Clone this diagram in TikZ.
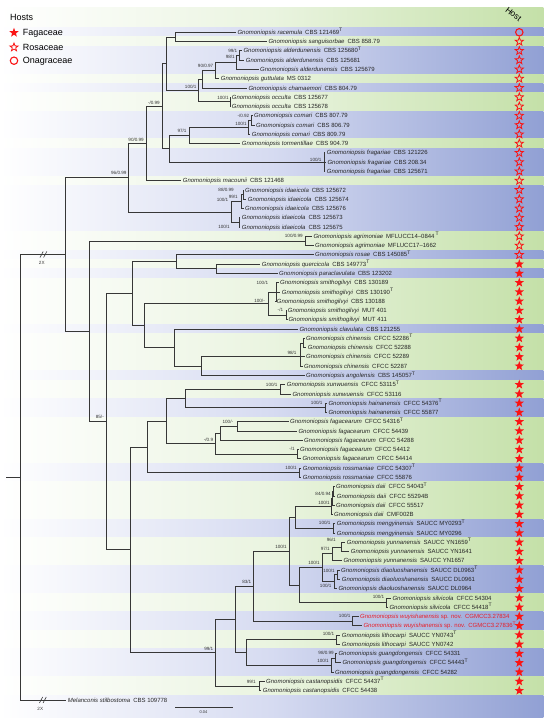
\documentclass[tikz,border=0pt]{standalone}
\usepackage{fontspec}
\setmainfont{Liberation Sans}
\usetikzlibrary{shapes.geometric}
\definecolor{lineg}{RGB}{55,55,55}
\definecolor{bR}{RGB}{145,160,212}
\definecolor{bM}{RGB}{214,219,241}
\definecolor{gR}{RGB}{196,224,168}
\definecolor{gM}{RGB}{234,244,224}
\definecolor{hred}{RGB}{250,20,20}
\definecolor{nred}{RGB}{232,30,40}
\newcommand\ry[1]{(32.3+(#1-1)*9.272)}
\newcommand\Ty{\textsuperscript{T}}
\newcommand\leafn[5]{\node[leaf] (#1) at ({#3-1.5},{\ry{#2}}) {\textit{Gnomoniopsis #4}\hspace{0.5em}#5};}
\newcommand\bandB[2]{\shade[left color=white,right color=bR,middle color=bM] (0,{\ry{#1}-4.636}) rectangle (543.3,{\ry{#2}+4.636});}
\newcommand\bandG[2]{\shade[left color=white,right color=gR,middle color=gM] (0,{\ry{#1}-4.636}) rectangle (543.3,{\ry{#2}+4.636});}
\newcommand\hostF[1]{\node[fstar] (h#1) at (519.3,{\ry{#1}}) {};}
\newcommand\hostO[1]{\node[ostar] (h#1) at (519.3,{\ry{#1}}) {};}
\newcommand\supl[4]{\node[supp] (#1) at (#2,#3) {#4};}
\tikzset{
 leaf/.style={anchor=west, inner xsep=1.5pt, inner ysep=0pt, text height=4.3pt, text depth=0pt, font=\fontsize{6}{7}\selectfont, text=black!85},
 supp/.style={anchor=east, inner sep=0pt, font=\fontsize{4.6}{5}\selectfont, text=black!80},
 br/.style={draw=lineg, line width=0.75pt},
 fstar/.style={star, star points=5, star point ratio=2.4, fill=hred, draw=none, minimum size=9.8pt, inner sep=0pt},
 ostar/.style={star, star points=5, star point ratio=2.4, draw=hred, fill=none, line width=0.8pt, minimum size=8.6pt, inner sep=0pt},
 ocirc/.style={circle, draw=hred, line width=1.1pt, minimum size=7.4pt, inner sep=0pt},
 legt/.style={anchor=west, inner sep=0pt, text height=6.4pt, text depth=0pt, font=\fontsize{9}{10}\selectfont}
}
\begin{document}
\begin{tikzpicture}[x=1pt,y=-1pt]
\useasboundingbox (0,0) rectangle (550,721);
\fill[white] (0,0) rectangle (550,721);
% ---------- bands
\shade[left color=white,right color=gR,middle color=gM] (0,7) rectangle (543.3,{\ry{1}-4.636});
\bandB{1}{1}\bandG{2}{2}\bandB{3}{5}\bandG{6}{6}\bandB{7}{7}\bandG{8}{9}
\bandB{10}{12}\bandG{13}{13}\bandB{14}{16}\bandG{17}{17}\bandB{18}{22}
\bandG{23}{24}\bandB{25}{25}\bandG{26}{26}\bandB{27}{27}\bandG{28}{32}
\bandB{33}{33}\bandG{34}{37}\bandB{38}{38}\bandG{39}{40}\bandB{41}{42}
\bandG{43}{47}\bandB{48}{49}\bandG{50}{53}\bandB{54}{55}\bandG{56}{58}
\bandB{59}{61}\bandG{62}{63}\bandB{64}{65}\bandG{66}{67}\bandB{68}{70}
\bandG{71}{72}
\shade[left color=white,right color=bR,middle color=bM] (0,{\ry{73}-4.636}) rectangle (543.3,717);
% ---------- legend
\node[anchor=west, inner sep=0pt, font=\fontsize{9}{10}\selectfont] (hosts) at (10,17.3) {Hosts};
\node[fstar] (lg1) at (14,32.7) {};
\node[legt] (lt1) at (22.7,32.7) {Fagaceae};
\node[ostar] (lg2) at (14,47.3) {};
\node[legt] (lt2) at (22.7,47.3) {Rosaceae};
\node[ocirc] (lg3) at (14,60.7) {};
\node[legt] (lt3) at (22.7,60.7) {Onagraceae};
\node[rotate=-38, inner sep=0pt, font=\fontsize{8.5}{9}\selectfont] (hosthdr) at (513.5,14.3) {Host};
% ---------- leaves
\leafn{L1}{1}{237.3}{racemula}{CBS 121469\Ty}
\leafn{L2}{2}{268.3}{sanguisorbae}{CBS 858.79}
\leafn{L3}{3}{243.3}{alderdunensis}{CBS 125680\Ty}
\leafn{L4}{4}{245.7}{alderdunensis}{CBS 125681}
\leafn{L5}{5}{260}{alderdunensis}{CBS 125679}
\leafn{L6}{6}{220.7}{guttulata}{MS 0312}
\leafn{L7}{7}{248.3}{chamaemori}{CBS 804.79}
\leafn{L8}{8}{231.7}{occulta}{CBS 125677}
\leafn{L9}{9}{231.7}{occulta}{CBS 125678}
\leafn{L10}{10}{254}{comari}{CBS 807.79}
\leafn{L11}{11}{256}{comari}{CBS 806.79}
\leafn{L12}{12}{251.7}{comari}{CBS 809.79}
\leafn{L13}{13}{241.7}{tormentillae}{CBS 904.79}
\leafn{L14}{14}{326.7}{fragariae}{CBS 121226}
\leafn{L15}{15}{327.3}{fragariae}{CBS 208.34}
\leafn{L16}{16}{326.7}{fragariae}{CBS 125671}
\leafn{L17}{17}{182.7}{macounii}{CBS 121468}
\leafn{L18}{18}{245}{idaeicola}{CBS 125672}
\leafn{L19}{19}{247.7}{idaeicola}{CBS 125674}
\leafn{L20}{20}{245}{idaeicola}{CBS 125676}
\leafn{L21}{21}{241.7}{idaeicola}{CBS 125673}
\leafn{L22}{22}{241.7}{idaeicola}{CBS 125675}
\leafn{L23}{23}{313.3}{agrimoniae}{MFLUCC14–0844\,\Ty}
\leafn{L24}{24}{315}{agrimoniae}{MFLUCC17–1662}
\leafn{L25}{25}{315}{rosae}{CBS 145085\Ty}
\leafn{L26}{26}{261.7}{quercicola}{CBS 149773\Ty}
\leafn{L27}{27}{279}{paraclavulata}{CBS 123202}
\leafn{L28}{28}{280}{smithogilvyi}{CBS 130189}
\leafn{L29}{29}{281.7}{smithogilvyi}{CBS 130190\Ty}
\leafn{L30}{30}{276.7}{smithogilvyi}{CBS 130188}
\leafn{L31}{31}{287.7}{smithogilvyi}{MUT 401}
\leafn{L32}{32}{288.3}{smithogilvyi}{MUT 411}
\leafn{L33}{33}{299.3}{clavulata}{CBS 121255}
\leafn{L34}{34}{306}{chinensis}{CFCC 52286\Ty}
\leafn{L35}{35}{307.7}{chinensis}{CFCC 52288}
\leafn{L36}{36}{306}{chinensis}{CFCC 52289}
\leafn{L37}{37}{304}{chinensis}{CFCC 52287}
\leafn{L38}{38}{306}{angolensis}{CBS 145057\Ty}
\leafn{L39}{39}{286.7}{xunwuensis}{CFCC 53115\Ty}
\leafn{L40}{40}{292.3}{xunwuensis}{CFCC 53116}
\leafn{L41}{41}{328.3}{hainanensis}{CFCC 54376\Ty}
\leafn{L42}{42}{328.3}{hainanensis}{CFCC 55877}
\leafn{L43}{43}{290}{fagacearum}{CFCC 54316\Ty}
\leafn{L44}{44}{298.3}{fagacearum}{CFCC 54439}
\leafn{L45}{45}{304}{fagacearum}{CFCC 54288}
\leafn{L46}{46}{300}{fagacearum}{CFCC 54412}
\leafn{L47}{47}{302.3}{fagacearum}{CFCC 54414}
\leafn{L48}{48}{302.7}{rossmaniae}{CFCC 54307\Ty}
\leafn{L49}{49}{302.7}{rossmaniae}{CFCC 55876}
\leafn{L50}{50}{336}{daii}{CFCC 54043\Ty}
\leafn{L51}{51}{336.7}{daii}{CFCC 55294B}
\leafn{L52}{52}{336}{daii}{CFCC 55517}
\leafn{L53}{53}{334}{daii}{CMF002B}
\leafn{L54}{54}{336.7}{mengyinensis}{SAUCC MY0293\Ty}
\leafn{L55}{55}{336.7}{mengyinensis}{SAUCC MY0296}
\leafn{L56}{56}{346.7}{yunnanensis}{SAUCC YN1659\Ty}
\leafn{L57}{57}{350.7}{yunnanensis}{SAUCC YN1641}
\leafn{L58}{58}{343.3}{yunnanensis}{SAUCC YN1657}
\leafn{L59}{59}{341}{diaoluoshanensis}{SAUCC DL0963\Ty}
\leafn{L60}{60}{341.7}{diaoluoshanensis}{SAUCC DL0961}
\leafn{L61}{61}{338.3}{diaoluoshanensis}{SAUCC DL0964}
\leafn{L62}{62}{392.3}{silvicola}{CFCC 54304}
\leafn{L63}{63}{389.3}{silvicola}{CFCC 54418\Ty}
\node[leaf, text=nred] (L64) at (358.5,{\ry{64}}) {\textit{Gnomoniopsis wuyishanensis} sp. nov.\hspace{0.5em}CGMCC3.27834};
\node[leaf, text=nred] (L65) at (361.8,{\ry{65}}) {\textit{Gnomoniopsis wuyishanensis} sp. nov.\hspace{0.5em}CGMCC3.27836\Ty};
\leafn{L66}{66}{341.7}{lithocarpi}{SAUCC YN0743\Ty}
\leafn{L67}{67}{341.7}{lithocarpi}{SAUCC YN0742}
\leafn{L68}{68}{338.3}{guangdongensis}{CFCC 54331}
\leafn{L69}{69}{342.3}{guangdongensis}{CFCC 54443\Ty}
\leafn{L70}{70}{335}{guangdongensis}{CFCC 54282}
\leafn{L71}{71}{266}{castanopsidis}{CFCC 54437\Ty}
\leafn{L72}{72}{262.7}{castanopsidis}{CFCC 54438}
\node[leaf] (L73) at (66.2,{\ry{73}}) {\textit{Melanconis stilbostoma}\hspace{0.5em}CBS 109778};
% ---------- internal nodes
\coordinate (RS) at (175.7,36.94);
\coordinate (A3) at (239.3,55.48);
\coordinate (A2) at (236,62.43);
\coordinate (A1) at (215,70.55);
\coordinate (A0) at (202.7,79.24);
\coordinate (OC) at (230,101.84);
\coordinate (N100) at (198.7,90.54);
\coordinate (T1) at (166.7,63.74);
\coordinate (C2) at (251,120.38);
\coordinate (C1) at (248.5,127.34);
\coordinate (N97) at (189,135.45);
\coordinate (FR) at (324,162.11);
\coordinate (N169) at (169,148.78);
\coordinate (N099) at (162.3,106.26);
\coordinate (R90) at (146,143.46);
\coordinate (I3) at (243.3,194.56);
\coordinate (I2) at (241,201.52);
\coordinate (I5) at (239.3,222.38);
\coordinate (I1) at (231.7,211.95);
\coordinate (R96) at (128,177.7);
\coordinate (AG) at (305,240.92);
\coordinate (QP) at (216.5,268.74);
\coordinate (RQ) at (176,261.78);
\coordinate (S2) at (276.7,291.92);
\coordinate (S3) at (286.7,315.1);
\coordinate (S1) at (268.3,303.5);
\coordinate (CHa) at (303,342.9);
\coordinate (CH) at (300,356.82);
\coordinate (N202) at (201.7,366.09);
\coordinate (N174) at (174.3,347.55);
\coordinate (N144) at (144.3,325.5);
\coordinate (N133) at (132.7,293.64);
\coordinate (XU) at (280,389.28);
\coordinate (HA) at (325,407.82);
\coordinate (N185) at (185,398.55);
\coordinate (FA1) at (237.3,426.36);
\coordinate (FA0) at (220.7,433.3);
\coordinate (FA2) at (297,454.18);
\coordinate (N215f) at (215,443.74);
\coordinate (N166) at (166.7,421.15);
\coordinate (RO) at (299,472.72);
\coordinate (N147) at (147.7,446.94);
\coordinate (D3) at (333.8,491.27);
\coordinate (D2) at (332.8,498.22);
\coordinate (D1) at (331.7,506.33);
\coordinate (ME) at (333.3,528.36);
\coordinate (DM) at (295,517.35);
\coordinate (Y2) at (341.5,546.9);
\coordinate (Y1) at (332.3,553.85);
\coordinate (DA) at (337,574.72);
\coordinate (DB) at (334,581.67);
\coordinate (YD) at (322.7,567.76);
\coordinate (SI) at (386.5,602.53);
\coordinate (N299) at (299.3,585.15);
\coordinate (N289) at (289.3,551.25);
\coordinate (WU) at (352.7,621.08);
\coordinate (N253) at (253.3,586.17);
\coordinate (LI) at (336,639.62);
\coordinate (G2) at (335,658.16);
\coordinate (G1) at (331.7,665.12);
\coordinate (N246) at (246.7,652.37);
\coordinate (N235) at (235.7,619.27);
\coordinate (CA) at (259,685.98);
\coordinate (N215) at (215.5,652.62);
\coordinate (N130) at (130,549.78);
\coordinate (N107) at (106.7,421.71);
\coordinate (N89) at (89,331.3);
\coordinate (N65) at (65,254.5);
\coordinate (root) at (20,477.2);
\coordinate (stub) at (6,477.2);
% ---------- branches
\draw[br] (stub) -- (root);
\foreach \p/\c in {RS/L1.west,RS/L2.west,A3/L3.west,A3/L4.west,A2/A3,A2/L5.west,
 A1/A2,A1/L6.west,A0/A1,A0/L7.west,OC/L8.west,OC/L9.west,N100/A0,N100/OC,T1/RS,T1/N100,
 C2/L10.west,C2/L11.west,C1/C2,C1/L12.west,N97/C1,N97/L13.west,FR/L14.west,FR/L15.west,FR/L16.west,
 N169/N97,N169/FR,N099/T1,N099/N169,R90/N099,R90/L17.west,I3/L18.west,I3/L19.west,I2/I3,I2/L20.west,
 I5/L21.west,I5/L22.west,I1/I2,I1/I5,R96/R90,R96/I1,AG/L23.west,AG/L24.west,QP/L26.west,QP/L27.west,
 RQ/L25.west,RQ/QP,S2/L28.west,S2/L29.west,S2/L30.west,S3/L31.west,S3/L32.west,S1/S2,S1/S3,
 CHa/L34.west,CHa/L35.west,CH/CHa,CH/L36.west,CH/L37.west,N202/CH,N202/L38.west,N174/L33.west,N174/N202,
 N144/S1,N144/N174,N133/RQ,N133/N144,XU/L39.west,XU/L40.west,HA/L41.west,HA/L42.west,N185/XU,N185/HA,
 FA1/L43.west,FA1/L44.west,FA0/FA1,FA0/L45.west,FA2/L46.west,FA2/L47.west,N215f/FA0,N215f/FA2,
 N166/N185,N166/N215f,RO/L48.west,RO/L49.west,N147/N166,N147/RO,D3/L50.west,D3/L51.west,D2/D3,D2/L52.west,
 D1/D2,D1/L53.west,ME/L54.west,ME/L55.west,DM/D1,DM/ME,Y2/L56.west,Y2/L57.west,Y1/Y2,Y1/L58.west,
 DA/L59.west,DA/L60.west,DB/DA,DB/L61.west,YD/Y1,YD/DB,SI/L62.west,SI/L63.west,N299/YD,N299/SI,
 N289/DM,N289/N299,WU/L64.west,WU/L65.west,N253/N289,N253/WU,LI/L66.west,LI/L67.west,G2/L68.west,G2/L69.west,
 G1/G2,G1/L70.west,N246/LI,N246/G1,N235/N253,N235/N246,CA/L71.west,CA/L72.west,N215/N235,N215/CA,
 N130/N147,N130/N215,N107/N133,N107/N130,N89/AG,N89/N107,N65/R96,N65/N89,root/N65,root/L73.west}
 {\draw[br] (\p) |- (\c);}
% ---------- break marks
\draw[br, line width=0.6pt] (40,257.5) -- (43.2,251.5) (43.6,257.5) -- (46.8,251.5);
\draw[br, line width=0.6pt] (39.5,702.9) -- (42.7,696.9) (43.1,702.9) -- (46.3,696.9);
\node[supp, anchor=center] (x2a) at (41.8,263.3) {2X};
\node[supp, anchor=center] (x2b) at (40.3,708.5) {2X};
% ---------- support values
\supl{s1}{160}{102.7}{-/0.99}
\supl{s2}{144}{140}{90/0.99}
\supl{s3}{126.7}{173.3}{96/0.99}
\supl{s4}{186.7}{131}{97/1}
\supl{s5}{196.7}{87.3}{100/1}
\supl{s6}{213.5}{66}{90/0.97}
\supl{s7}{235}{57.3}{98/1}
\supl{s8}{237.5}{51}{99/1}
\supl{s9}{229}{97.7}{100/1}
\supl{s10}{249.5}{116}{-/0.92}
\supl{s11}{247}{124}{100/1}
\supl{s12}{321.7}{160}{100/1}
\supl{s13}{234}{190.3}{88/0.99}
\supl{s14}{238}{196.5}{99/1}
\supl{s15}{228.5}{199.5}{100/1}
\supl{s16}{230}{227.3}{100/1}
\supl{s17}{303}{236.2}{100/0.99}
\supl{s18}{268.3}{282.7}{100/1}
\supl{s19}{265}{301}{100/-}
\supl{s20}{283.3}{310.3}{-/1}
\supl{s21}{296.7}{353.3}{98/1}
\supl{s22}{277.7}{384.7}{100/1}
\supl{s23}{322.7}{403.3}{100/1}
\supl{s24}{233.3}{422}{100/-}
\supl{s25}{213.3}{440.3}{-/0.9}
\supl{s26}{295}{449.3}{-/1}
\supl{s27}{297}{467.7}{100/1}
\supl{s28}{104}{416.7}{85/-}
\supl{s29}{331}{494}{84/0.94}
\supl{s30}{330}{502.7}{100/1}
\supl{s31}{330.7}{523.3}{100/1}
\supl{s32}{336}{540}{96/1}
\supl{s33}{330}{549.3}{97/1}
\supl{s34}{320}{562.7}{100/1}
\supl{s35}{335}{570.7}{100/1}
\supl{s36}{331.7}{586}{100/1}
\supl{s37}{287}{546.7}{100/1}
\supl{s38}{251.5}{581.7}{83/1}
\supl{s39}{384.5}{597.3}{100/1}
\supl{s40}{350.7}{615.7}{100/1}
\supl{s41}{334.5}{634.3}{100/1}
\supl{s42}{334}{653.3}{98/0.99}
\supl{s43}{329}{661}{100/1}
\supl{s44}{213.5}{649.3}{99/1}
\supl{s45}{256}{681.7}{99/1}
% ---------- scale bar
\coordinate (sb1) at (175,707.7);
\coordinate (sb2) at (233,707.7);
\draw[br] (sb1) -- (sb2);
\node[supp, anchor=center, font=\fontsize{4}{5}\selectfont] (sbl) at (203.5,711.8) {0.04};
% ---------- host symbols
\node[ocirc] (h1) at (519.3,{\ry{1}}) {};
\foreach \i in {2,...,25} {\hostO{\i}}
\foreach \i in {26,...,37} {\hostF{\i}}
\foreach \i in {39,...,72} {\hostF{\i}}
\end{tikzpicture}
\end{document}
